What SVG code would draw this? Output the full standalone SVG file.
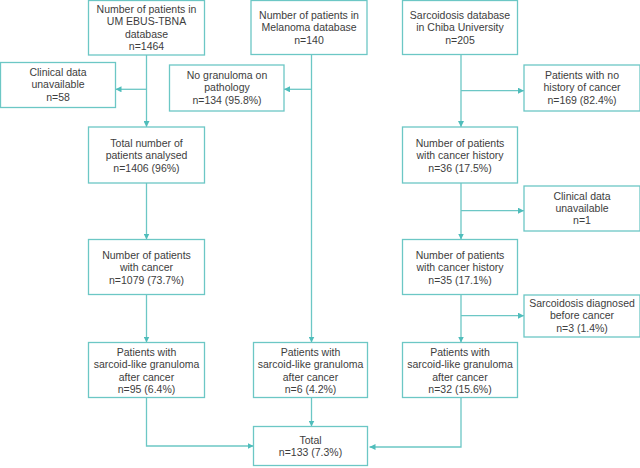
<svg xmlns="http://www.w3.org/2000/svg" width="640" height="468" viewBox="0 0 640 468">
<defs>
<marker id="ah" viewBox="0 0 6 6" refX="6" refY="3" markerWidth="6" markerHeight="6" markerUnits="userSpaceOnUse" orient="auto">
<path d="M0,0 L6,3 L0,6 Z" fill="#4fbdbb"/>
</marker>
<style>
rect{fill:#fff;stroke:#6cc7c5;stroke-width:1.3}
text{font-family:"Liberation Sans",Arial,sans-serif;font-size:10.5px;fill:#3d3d3d;text-anchor:middle}
#connectors path{fill:none;stroke:#6cc7c5;stroke-width:1.3;marker-end:url(#ah)}
</style>
</defs>
<rect x="0" y="0" width="640" height="468" style="fill:#fff;stroke:none"/>
<g id="connectors">
<path d="M146.5,55 V127"/>
<path d="M146.5,89.3 H115.5"/>
<path d="M311.5,55 V342.5"/>
<path d="M311.5,89.3 H284"/>
<path d="M461,55 V127"/>
<path d="M461,90.7 H524"/>
<path d="M146.5,183 V239.5"/>
<path d="M461,183 V239.5"/>
<path d="M461,210.7 H524"/>
<path d="M146.5,294.5 V342.5"/>
<path d="M461,294.5 V342.5"/>
<path d="M461,315.7 H524"/>
<path d="M146.5,397.5 V446 H253.5"/>
<path d="M311.5,397.5 V426.5"/>
<path d="M461,397.5 V447 H369.5"/>
</g>
<g id="n_umebus">
<rect x="88.5" y="0.5" width="116" height="54.5"/>
<text x="146.5" y="12.8">Number of patients in</text>
<text x="146.5" y="25.2">UM EBUS-TBNA</text>
<text x="146.5" y="37.6">database</text>
<text x="146.5" y="50">n=1464</text>
</g>
<g id="n_melanoma">
<rect x="251" y="0.5" width="116" height="54"/>
<text x="309" y="19">Number of patients in</text>
<text x="309" y="31.4">Melanoma database</text>
<text x="309" y="43.8">n=140</text>
</g>
<g id="n_chiba">
<rect x="402.5" y="0.5" width="115" height="54"/>
<text x="460" y="19">Sarcoidosis database</text>
<text x="460" y="31.4">in Chiba University</text>
<text x="460" y="43.8">n=205</text>
</g>
<g id="n_unavail1">
<rect x="0.5" y="62.5" width="115" height="45"/>
<text x="58" y="76">Clinical data</text>
<text x="58" y="88.4">unavailable</text>
<text x="58" y="100.8">n=58</text>
</g>
<g id="n_nogranuloma">
<rect x="169.5" y="65" width="114.5" height="46"/>
<text x="227" y="79">No granuloma on</text>
<text x="227" y="91.4">pathology</text>
<text x="227" y="103.8">n=134 (95.8%)</text>
</g>
<g id="n_nohistory">
<rect x="524" y="65" width="116" height="46"/>
<text x="582" y="79">Patients with no</text>
<text x="582" y="91.4">history of cancer</text>
<text x="582" y="103.8">n=169 (82.4%)</text>
</g>
<g id="n_analysed">
<rect x="88.5" y="127" width="116" height="56"/>
<text x="146.5" y="147">Total number of</text>
<text x="146.5" y="159.4">patients analysed</text>
<text x="146.5" y="171.8">n=1406 (96%)</text>
</g>
<g id="n_history36">
<rect x="402.5" y="127" width="115" height="56"/>
<text x="460" y="147">Number of patients</text>
<text x="460" y="159.4">with cancer history</text>
<text x="460" y="171.8">n=36 (17.5%)</text>
</g>
<g id="n_unavail2">
<rect x="524" y="186" width="116" height="45"/>
<text x="582" y="199.5">Clinical data</text>
<text x="582" y="211.9">unavailable</text>
<text x="582" y="224.3">n=1</text>
</g>
<g id="n_cancer">
<rect x="88.5" y="239.5" width="116" height="55"/>
<text x="146.5" y="259">Number of patients</text>
<text x="146.5" y="271.4">with cancer</text>
<text x="146.5" y="283.8">n=1079 (73.7%)</text>
</g>
<g id="n_history35">
<rect x="402.5" y="239.5" width="115" height="55"/>
<text x="460" y="259">Number of patients</text>
<text x="460" y="271.4">with cancer history</text>
<text x="460" y="283.8">n=35 (17.1%)</text>
</g>
<g id="n_before">
<rect x="524" y="295" width="116" height="42"/>
<text x="582" y="306.8">Sarcoidosis diagnosed</text>
<text x="582" y="319.2">before cancer</text>
<text x="582" y="331.6">n=3 (1.4%)</text>
</g>
<g id="n_sarc_left">
<rect x="88.5" y="342.5" width="116" height="55"/>
<text x="146.5" y="355.8">Patients with</text>
<text x="146.5" y="368.2">sarcoid-like granuloma</text>
<text x="146.5" y="380.6">after cancer</text>
<text x="146.5" y="393">n=95 (6.4%)</text>
</g>
<g id="n_sarc_mid">
<rect x="253.5" y="342.5" width="114" height="55"/>
<text x="310.5" y="355.8">Patients with</text>
<text x="310.5" y="368.2">sarcoid-like granuloma</text>
<text x="310.5" y="380.6">after cancer</text>
<text x="310.5" y="393">n=6 (4.2%)</text>
</g>
<g id="n_sarc_right">
<rect x="402.5" y="342.5" width="115" height="55"/>
<text x="460" y="355.8">Patients with</text>
<text x="460" y="368.2">sarcoid-like granuloma</text>
<text x="460" y="380.6">after cancer</text>
<text x="460" y="393">n=32 (15.6%)</text>
</g>
<g id="n_total">
<rect x="253.5" y="426.5" width="114" height="39"/>
<text x="310.5" y="443.5">Total</text>
<text x="310.5" y="455.9">n=133 (7.3%)</text>
</g>
</svg>
